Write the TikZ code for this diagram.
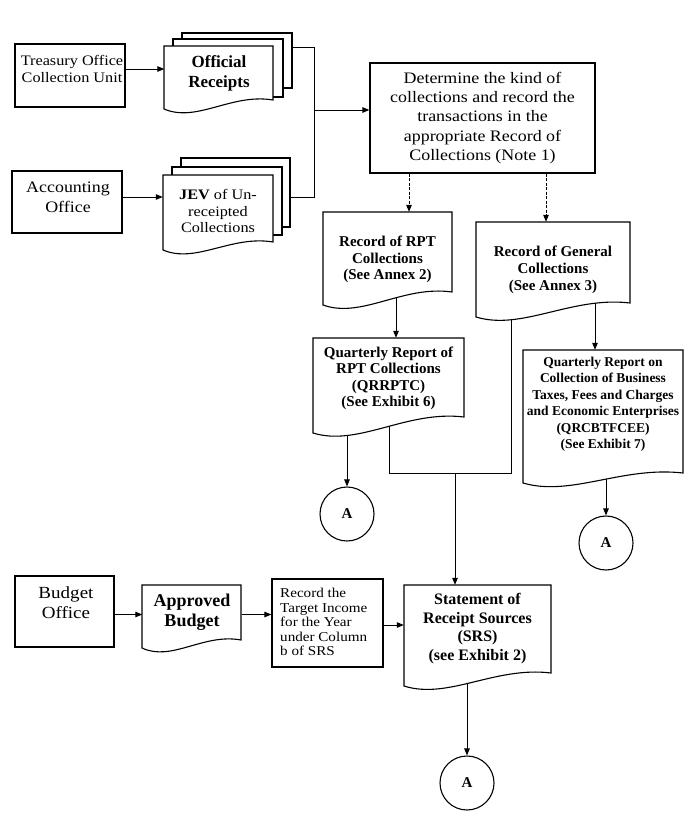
\documentclass[tikz,border=0pt]{standalone}
\usepackage{fontspec}
\setmainfont{Liberation Serif}
\newfontfamily\rmw{Liberation Serif}[FakeStretch=1.12]
\usetikzlibrary{arrows.meta,backgrounds}
\newcommand\fsz[2]{\fontsize{#1}{#2}\selectfont}
% x1 ytop x2 yl yr
\newcommand\docout[5]{\path[docline] (#1,#4) -- (#1,#2) -- (#3,#2) -- (#3,#5) .. controls ({#1+0.62*(#3-#1)},{#5-7}) and ({#1+0.3*(#3-#1)},{#4+14}) .. (#1,#4) -- cycle;}
\tikzset{
 ln/.style={line width=1pt},
 arr/.style={ln, -{Triangle[length=7pt,width=5.5pt]}},
 darr/.style={arr, dash pattern=on 3pt off 1.5pt},
 box/.style={draw, line width=1.2pt, fill=white, inner sep=0pt},
 layerbox/.style={draw, line width=1.1pt, fill=white, inner sep=0pt},
 txt/.style={align=center, inner sep=0pt},
 doctext/.style={align=center, inner sep=0pt, font=\bfseries},
 docline/.style={draw, line width=1.1pt, fill=white},
 conn/.style={draw, circle, line width=1.1pt, minimum size=54pt, inner sep=0pt, fill=white, font=\bfseries\fsz{15}{18}},
}
\begin{document}
\begin{tikzpicture}[x=1pt,y=-1pt]
\useasboundingbox (0,0) rectangle (700,814);

% ---- plain boxes
\node[box, minimum width=110pt, minimum height=63pt] (treasury) at (70,75.5) {};
\node[txt, font=\rmw\fsz{14.5}{17}] (treasury-t) at (72,68.5) {Treasury Office\\Collection Unit};
\node[box, minimum width=110pt, minimum height=62pt] (accounting) at (67,202) {};
\node[txt, font=\rmw\fsz{16}{20}] (accounting-t) at (68,197) {Accounting\\Office};
\node[box, minimum width=225pt, minimum height=110pt, align=center, font=\rmw\fsz{16}{19.3}] (det) at (482.5,118)
  {Determine the kind of\\collections and record the\\transactions in the\\appropriate Record of\\Collections (Note 1)};
\node[box, minimum width=99pt, minimum height=71pt] (budget) at (64.5,611.5) {};
\node[txt, font=\rmw\fsz{17}{20}] (budget-t) at (66,603) {Budget\\Office};
\node[box, minimum width=111pt, minimum height=88pt] (target) at (327.5,623) {};
\node[anchor=west, align=left, inner sep=0pt, font=\rmw\fsz{13.5}{14.5}] (target-t) at (280,622)
  {Record the\\Target Income\\for the Year\\under Column\\b of SRS};

% ---- Official Receipts stack
\node[layerbox, minimum width=110pt, minimum height=55pt] (orback) at (237,60.5) {};
\node[layerbox, minimum width=110pt, minimum height=58pt] (ormid) at (228,68) {};
\docout{164}{46}{273}{109}{100}
\node[doctext, minimum width=109pt, minimum height=54pt, font=\bfseries\fsz{17}{20}] (orf) at (219,73) {Official\\Receipts};

% ---- JEV stack
\node[layerbox, minimum width=109pt, minimum height=69pt] (jevback) at (235.5,192.5) {};
\node[layerbox, minimum width=110pt, minimum height=68pt] (jevmid) at (227,201) {};
\docout{163}{175}{273}{250}{242}
\node[txt, minimum width=110pt, minimum height=72pt, font=\rmw\fsz{14.5}{16.5}] (jevf) at (218,211)
  {\textbf{JEV} of Un-\\receipted\\Collections};

% ---- Record of RPT Collections
\docout{323}{212}{452}{305}{292}
\node[doctext, minimum width=129pt, minimum height=95pt, font=\bfseries\fsz{15}{16.5}] (rptrec) at (387.5,259.5)
  {Record of RPT\\Collections\\(See Annex 2)};

% ---- Record of General Collections
\docout{476}{222}{630}{317}{303}
\node[doctext, minimum width=154pt, minimum height=96pt, font=\bfseries\fsz{15}{17}] (genrec) at (553,270)
  {Record of General\\Collections\\(See Annex 3)};

% ---- QRRPTC
\docout{313}{338}{464}{433}{417}
\node[doctext, minimum width=151pt, minimum height=81pt, font=\bfseries\fsz{15}{16.5}] (qrrptc) at (388.5,378.5)
  {Quarterly Report of\\RPT Collections\\(QRRPTC)\\(See Exhibit 6)};

% ---- QRCBTFCEE
\docout{523}{350}{683}{483}{473}
\node[doctext, minimum width=160pt, minimum height=108pt, font=\bfseries\fsz{13.5}{16.5}] (qrcb) at (603,404)
  {Quarterly Report on\\Collection of Business\\Taxes, Fees and Charges\\and Economic Enterprises\\(QRCBTFCEE)\\(See Exhibit 7)};

% ---- Approved Budget
\docout{142}{585}{241}{648}{640}
\node[doctext, minimum width=99pt, minimum height=54pt, font=\bfseries\fsz{18}{20}] (appr) at (192,612) {Approved\\Budget};

% ---- SRS
\docout{404}{585}{551}{686}{673}
\node[doctext, minimum width=147pt, minimum height=87pt, font=\bfseries\fsz{16}{18.5}] (srs) at (477.5,628.5)
  {Statement of\\Receipt Sources\\(SRS)\\(see Exhibit 2)};

% ---- connectors
\node[conn] (a1) at (347,514) {A};
\node[conn] (a2) at (606,543) {A};
\node[conn] (a3) at (467,783) {A};

\coordinate (yor) at (0,69);
\coordinate (yjev) at (0,197);
\coordinate (bus) at (314,47);
\coordinate (busb) at (314,197);
\coordinate (busm) at (314,110);
\coordinate (xr) at (409,0);
\coordinate (xg) at (546,0);
\coordinate (rptrec-b) at (396,280);
\coordinate (genrec-b) at (595,290);
\coordinate (m1) at (389,405);
\coordinate (m2) at (389,473);
\coordinate (m3) at (511,473);
\coordinate (m4) at (511,295);
\coordinate (m0) at (455,473);
\coordinate (q1b) at (347,410);
\coordinate (q2b) at (606,460);
\coordinate (sb) at (467,660);
\coordinate (ybud) at (0,614.5);
\coordinate (ysrs) at (0,625);

\begin{pgfonlayer}{background}
\fill[white] (0,0) rectangle (700,814);
\draw[arr] (treasury.east |- yor) -- (orf.west |- yor);
\draw[arr] (accounting.east |- yjev) -- (jevf.west |- yjev);
\draw[ln] (orback.east |- bus) -- (bus) -- (busb) -- (jevback.east |- busb);
\draw[arr] (busm) -- (det.west |- busm);
\draw[darr] (det.south -| xr) -- (rptrec.north -| xr);
\draw[darr] (det.south -| xg) -- (genrec.north -| xg);
\draw[arr] (rptrec-b) -- (qrrptc.north -| rptrec-b);
\draw[arr] (genrec-b) -- (qrcb.north -| genrec-b);
\draw[ln] (m1) -- (m2) -- (m3) -- (m4);
\draw[arr] (m0) -- (srs.north -| m0);
\draw[arr] (q1b) -- (a1.north);
\draw[arr] (q2b) -- (a2.north);
\draw[arr] (sb) -- (a3.north);
\draw[arr] (budget.east |- ybud) -- (appr.west |- ybud);
\draw[arr] (appr.east |- ybud) -- (target.west |- ybud);
\draw[arr] (target.east |- ysrs) -- (srs.west |- ysrs);
\end{pgfonlayer}
\end{tikzpicture}
\end{document}
